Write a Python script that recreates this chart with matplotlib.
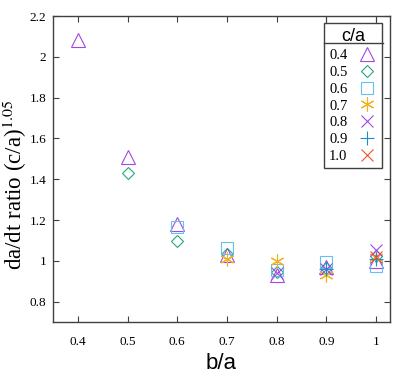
import numpy as np
import matplotlib
matplotlib.use("Agg")
import matplotlib.pyplot as plt
from matplotlib.lines import Line2D

nan = np.nan
ba = [0.4, 0.5, 0.6, 0.7, 0.8, 0.9, 1.0]
c04 = [2.08, 1.51, 1.178, 1.03, 0.93, 0.968, 1.00]
c05 = [nan, 1.43, 1.095, 1.035, 0.945, 0.965, 1.025]
c06 = [nan, nan, 1.165, 1.065, 0.955, 0.995, 0.975]
c07 = [nan, nan, nan, 1.01, 1.0, 0.928, 1.02]
c08 = [nan, nan, nan, nan, 0.94, 0.962, 1.055]
c09 = [nan, nan, nan, nan, nan, 0.96, 1.01]
c10 = [nan, nan, nan, nan, nan, nan, 1.02]
series = [c04, c05, c06, c07, c08, c09, c10]
labels = ["0.4", "0.5", "0.6", "0.7", "0.8", "0.9", "1.0"]
markers = ["^", "D", "s", (6, 2, 0), "x", "+", "x"]
sizes = [10, 6.5, 8, 10, 9, 10, 9]
colors = ["#a347e6", "#22a884", "#66bfee", "#f2b01e", "#a347e6", "#1a8fd0", "#f0502a"]

plt.rcParams['mathtext.fontset'] = 'stix'
fig = plt.figure(figsize=(4.15, 3.78), dpi=100)
W, H = 415, 378
ax = fig.add_axes([53/W, 1-322/H, (390-53)/W, (322-16)/H])

handles = []
for ys, lab, m, s, c in zip(series, labels, markers, sizes, colors):
    h, = ax.plot(ba, ys, linestyle='none', marker=m, markersize=s,
                 markerfacecolor='none', markeredgecolor=c, markeredgewidth=0.8,
                 label=lab)
    handles.append(h)

ax.set_xlim(0.35, 1.028)
ax.set_ylim(0.7, 2.2)
ax.set_xticks([0.4, 0.5, 0.6, 0.7, 0.8, 0.9, 1.0])
ax.set_xticklabels(["0.4", "0.5", "0.6", "0.7", "0.8", "0.9", "1"])
ax.set_yticks([0.8, 1.0, 1.2, 1.4, 1.6, 1.8, 2.0, 2.2])
ax.set_yticklabels(["0.8", "1", "1.2", "1.4", "1.6", "1.8", "2", "2.2"])
ax.tick_params(direction='in', top=True, right=True, length=4, width=0.8,
               color='#404040', labelsize=9.5)
ax.tick_params(axis='x', pad=10)
ax.tick_params(axis='y', pad=5)
for lab in ax.get_xticklabels() + ax.get_yticklabels():
    lab.set_fontfamily('Liberation Serif')
for sp in ax.spines.values():
    sp.set_color('#404040')
    sp.set_linewidth(1.0)

ax.set_xlabel("b/a", fontsize=16, fontfamily='Liberation Sans', labelpad=4)
ax.set_ylabel("da/dt ratio (c/a)$^{1.05}$", fontsize=16.5,
              fontfamily='Liberation Serif')
ax.yaxis.set_label_coords((29-53)/337, (322-185)/306)

leg = ax.legend(handles=handles, labels=labels, title="c/a", loc='upper left',
                bbox_to_anchor=(324/W, 1-23/H), bbox_transform=fig.transFigure,
                markerfirst=False, frameon=True, fancybox=False, framealpha=1,
                edgecolor='#404040', handlelength=1.3, handletextpad=0.7,
                labelspacing=0.25, borderpad=0.35, borderaxespad=0, numpoints=1,
                prop={'family': 'Liberation Serif', 'size': 10.5},
                title_fontproperties={'family': 'Liberation Sans', 'size': 13})
leg.get_frame().set_linewidth(1.0)

# separator under legend title and small connector lines
fig.add_artist(Line2D([324/W, 383/W], [1-43/H, 1-43/H], color='#404040', lw=1.0,
                      transform=fig.transFigure))
for xx in (326, 376):
    fig.add_artist(Line2D([xx/W, xx/W], [1-16/H, 1-23/H], color='#404040', lw=0.8,
                          transform=fig.transFigure))

fig.savefig("out.png", dpi=100)
